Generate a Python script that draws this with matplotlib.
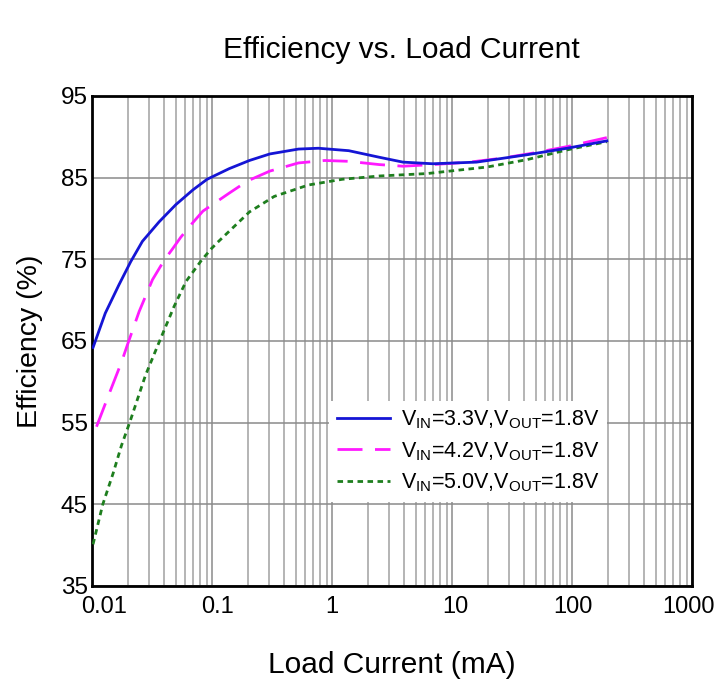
import matplotlib.pyplot as plt
import matplotlib.transforms as mtransforms
from matplotlib.ticker import LogLocator, NullFormatter, FixedLocator

plt.rcParams['font.family'] = ['Liberation Sans', 'DejaVu Sans']
plt.rcParams['mathtext.fontset'] = 'custom'
plt.rcParams['mathtext.rm'] = 'Liberation Sans'

# Vin = 3.3 V
x_33 = [0.0102, 0.0129, 0.0168, 0.021, 0.0263, 0.0363, 0.05, 0.0693, 0.091, 0.139,
        0.205, 0.303, 0.525, 0.77, 1.38, 2.47, 3.9, 6.9, 16, 42, 91, 195]
y_33 = [64.2, 68.4, 71.9, 74.7, 77.2, 79.6, 81.7, 83.5, 84.8, 86.1,
        87.1, 87.9, 88.5, 88.6, 88.3, 87.5, 86.9, 86.7, 86.9, 87.8, 88.6, 89.5]

# Vin = 4.2 V
x_42 = [0.0109, 0.0137, 0.0176, 0.0197, 0.0247, 0.0319, 0.04, 0.047, 0.0549, 0.0693,
        0.084, 0.139, 0.198, 0.303, 0.525, 0.87, 1.38, 2.47, 3.9, 6.9, 14,
        26.6, 47, 91, 195]
y_42 = [54.5, 58.3, 62.4, 64.5, 68.6, 72.5, 74.9, 76.3, 77.7, 79.5,
        80.9, 83.1, 84.6, 85.8, 86.8, 87.1, 87.0, 86.6, 86.4, 86.6, 86.9,
        87.4, 88.0, 88.8, 89.9]

# Vin = 5.0 V
x_50 = [0.0102, 0.0123, 0.015, 0.0176, 0.0207, 0.0279, 0.0352, 0.0482, 0.0608, 0.081,
        0.0987, 0.1117, 0.205, 0.33, 0.636, 1.22, 2.47, 6.2, 19.6, 42, 91, 195]
y_50 = [40.1, 45.0, 48.8, 52.2, 55.1, 60.8, 64.4, 69.2, 72.3, 74.8,
        76.3, 77.1, 80.8, 82.7, 84.1, 84.8, 85.2, 85.5, 86.3, 87.2, 88.4, 89.4]

labels = [r'V$_{\mathrm{IN}}$=3.3V,V$_{\mathrm{OUT}}$=1.8V',
          r'V$_{\mathrm{IN}}$=4.2V,V$_{\mathrm{OUT}}$=1.8V',
          r'V$_{\mathrm{IN}}$=5.0V,V$_{\mathrm{OUT}}$=1.8V']
x_ticks = [0.01, 0.1, 1, 10, 100, 1000]
x_tick_labels = ['0.01', '0.1', '1', '10', '100', '1000']
y_ticks = [35, 45, 55, 65, 75, 85, 95]

fig = plt.figure(figsize=(7.16, 6.97), dpi=100)
ax = fig.add_axes([0.1285, 0.1593, 0.838, 0.703])

ax.plot(x_33, y_33, color='#1515d5', lw=2.0, label=labels[0], zorder=4)
ax.plot(x_42, y_42, color='#ff1aff', lw=2.0, dashes=(9, 4.5), label=labels[1], zorder=3)
ax.plot(x_50, y_50, color='#1e7e1e', lw=2.0, dashes=(2, 1.6), label=labels[2], zorder=3)

ax.set_xscale('log')
ax.set_xlim(0.01, 1000)
ax.set_ylim(35, 95)
ax.xaxis.set_major_locator(FixedLocator(x_ticks))
ax.set_xticklabels(x_tick_labels)
ax.xaxis.set_minor_locator(LogLocator(base=10, subs=range(2, 10)))
ax.xaxis.set_minor_formatter(NullFormatter())
ax.set_yticks(y_ticks)

ax.grid(True, which='major', axis='both', color='#8a8a8a', lw=1.1)
ax.grid(True, which='minor', axis='x', color='#a0a0a0', lw=1.1)
ax.set_axisbelow(True)
ax.tick_params(which='both', length=0)
ax.tick_params(axis='x', pad=7, labelsize=17)
ax.tick_params(axis='y', pad=3, labelsize=17.5)
for s in ax.spines.values():
    s.set_linewidth(2)
    s.set_color('black')

# the original labels sit a little off their grid lines
x_offsets = [12, 5, 0, 3, 1, -4]
for lbl, dx in zip(ax.get_xticklabels(), x_offsets):
    lbl.set_transform(lbl.get_transform() +
                      mtransforms.ScaledTranslation(dx / 100, 0, fig.dpi_scale_trans))

ax.set_title('Efficiency vs. Load Current', fontsize=21.5, pad=27, x=0.515)
ax.set_xlabel('Load Current (mA)', fontsize=21.5, labelpad=24)
ax.set_ylabel('Efficiency (%)', fontsize=20.5, labelpad=13)

leg = ax.legend(loc='upper left', bbox_to_anchor=(0.395, 0.378), fontsize=15.5,
                frameon=True, fancybox=False, framealpha=1, edgecolor='white',
                handlelength=2.5, handletextpad=0.5, borderaxespad=0,
                labelspacing=0.42, borderpad=0.35)
leg.get_frame().set_linewidth(0)

fig.savefig('out.png', dpi=100, facecolor='white')
